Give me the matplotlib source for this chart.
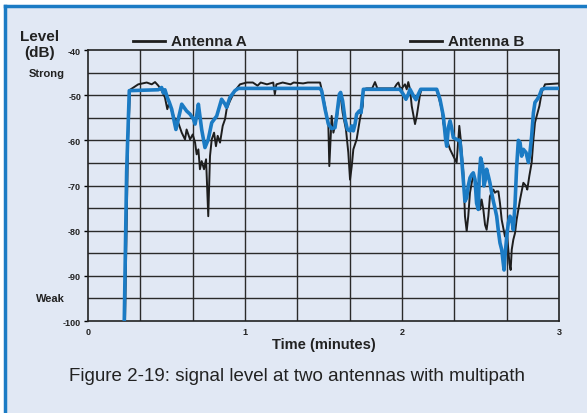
import numpy as np
import matplotlib.pyplot as plt
from matplotlib.patches import Rectangle
from matplotlib.lines import Line2D

# Antenna A (black trace)
time_a = [0.236, 0.255, 0.268, 0.32, 0.374, 0.406, 0.427, 0.448, 0.469, 0.490, 0.505, 0.518,
          0.533, 0.554, 0.575, 0.597, 0.618, 0.628, 0.650, 0.667, 0.682, 0.692, 0.703, 0.713,
          0.724, 0.739, 0.752, 0.766, 0.777, 0.788, 0.803, 0.815, 0.826, 0.841, 0.858, 0.873,
          0.883, 0.904, 0.936, 0.968, 1.011, 1.05, 1.08, 1.10, 1.14, 1.18, 1.19, 1.20, 1.24,
          1.29, 1.31, 1.37, 1.40, 1.478, 1.488, 1.510, 1.531, 1.537, 1.546, 1.552, 1.563,
          1.573, 1.584, 1.601, 1.609, 1.622, 1.643, 1.658, 1.669, 1.680, 1.690, 1.711, 1.732,
          1.750, 1.754, 1.775, 1.81, 1.828, 1.843, 1.95, 1.966, 1.977, 1.987, 1.998, 2.019,
          2.030, 2.040, 2.051, 2.062, 2.083, 2.094, 2.115, 2.125, 2.221, 2.231, 2.253, 2.263,
          2.285, 2.306, 2.327, 2.348, 2.359, 2.365, 2.374, 2.391, 2.401, 2.412, 2.422, 2.433,
          2.444, 2.454, 2.465, 2.475, 2.486, 2.497, 2.507, 2.518, 2.529, 2.539, 2.550, 2.560,
          2.571, 2.582, 2.592, 2.603, 2.614, 2.624, 2.635, 2.645, 2.656, 2.667, 2.677, 2.684,
          2.692, 2.699, 2.709, 2.720, 2.730, 2.752, 2.773, 2.790, 2.798, 2.811, 2.826, 2.837,
          2.847, 2.858, 2.875, 2.890, 2.911, 3.0]
level_a = [-100, -60, -48.8, -47.6, -47.2, -47.6, -47.1, -47.9, -49.0, -50.5, -53.1, -51.6,
           -53.5, -55.3, -56.1, -58.3, -59.8, -57.6, -59.8, -58.7, -60.5, -63.1, -62.0, -66.4,
           -64.6, -66.4, -64.2, -76.8, -63.5, -59.8, -58.3, -61.3, -59.0, -60.5, -56.8, -55.3,
           -53.1, -51.3, -49.0, -47.6, -47.2, -47.2, -47.9, -47.2, -47.6, -47.2, -49.8, -47.6, -47.2,
           -47.6, -47.2, -47.4, -47.2, -47.2, -48.7, -52.4, -56.8, -65.7, -59.0, -54.6, -58.3,
           -56.8, -55.3, -50.9, -50.1, -53.9, -57.6, -62.7, -68.7, -65.7, -62.0, -59.8, -55.3,
           -52.4, -48.7, -48.5, -48.5, -47.1, -48.5, -48.5, -47.6, -47.2, -48.3, -48.5, -47.6,
           -48.7, -47.1, -48.7, -52.4, -56.4, -54.6, -49.8, -48.7, -48.7, -50.1, -53.1, -56.1,
           -59.8, -62.0, -63.5, -64.9, -59.8, -56.8, -59.8, -67.2, -76.8, -80.1, -76.8, -71.6,
           -69.4, -67.9, -69.0, -69.4, -70.1, -75.3, -73.1, -75.3, -78.7, -79.8, -76.8, -72.4,
           -71.6, -70.9, -71.6, -71.3, -71.3, -73.9, -77.6, -79.4, -81.3, -79.8, -84.2, -87.2,
           -88.7, -84.2, -82.0, -80.5, -77.6, -73.1, -69.4, -70.1, -70.9, -67.9, -64.9, -59.8,
           -56.1, -54.6, -52.4, -49.4, -47.6, -47.4]

# Antenna B (blue trace)
time_b = [0.231, 0.246, 0.263, 0.448, 0.469, 0.48, 0.490, 0.505, 0.518, 0.533, 0.56, 0.597,
          0.628, 0.650, 0.672, 0.682, 0.692, 0.703, 0.724, 0.745, 0.766, 0.788, 0.820, 0.851,
          0.873, 0.883, 0.904, 0.936, 0.958, 1.478, 1.488, 1.510, 1.531, 1.552, 1.573, 1.584,
          1.601, 1.609, 1.622, 1.637, 1.652, 1.669, 1.680, 1.690, 1.701, 1.711, 1.728, 1.739,
          1.747, 1.754, 1.987, 2.008, 2.025, 2.040, 2.051, 2.072, 2.089, 2.104, 2.119, 2.221,
          2.242, 2.263, 2.278, 2.285, 2.295, 2.306, 2.316, 2.327, 2.348, 2.369, 2.380, 2.391,
          2.401, 2.412, 2.422, 2.433, 2.444, 2.454, 2.465, 2.475, 2.486, 2.492, 2.501, 2.514,
          2.522, 2.531, 2.539, 2.550, 2.560, 2.571, 2.582, 2.592, 2.603, 2.614, 2.624, 2.635,
          2.645, 2.650, 2.656, 2.667, 2.677, 2.688, 2.699, 2.709, 2.720, 2.730, 2.741, 2.752,
          2.762, 2.773, 2.790, 2.805, 2.815, 2.826, 2.837, 2.847, 2.862, 2.875, 2.890, 2.911, 3.0]
level_b = [-100, -67, -49.0, -48.8, -48.3, -49.5, -48.8, -50.5, -51.6, -53.1, -57.6, -52.0,
           -53.5, -54.2, -55.3, -56.4, -54.6, -52.0, -57.6, -61.6, -59.8, -56.1, -54.6, -50.9,
           -52.0, -52.7, -50.5, -49.0, -48.5, -48.5, -49.0, -53.1, -56.4, -57.4, -57.2, -54.6,
           -49.8, -49.4, -51.3, -55.3, -57.6, -57.9, -56.8, -57.9, -56.4, -54.2, -53.5, -53.9,
           -50.9, -48.7, -48.7, -49.8, -50.9, -49.8, -48.7, -50.1, -51.0, -49.8, -48.7, -48.7,
           -50.9, -54.6, -59.8, -61.3, -57.2, -55.7, -57.2, -59.4, -59.8, -60.1, -64.0, -69.0,
           -73.5, -72.7, -70.1, -68.3, -67.6, -67.2, -68.7, -73.9, -75.3, -67.9, -63.9, -65.7,
           -70.1, -68.7, -66.4, -67.9, -69.4, -71.6, -73.5, -75.0, -76.8, -80.1, -82.7, -84.2,
           -87.2, -88.7, -85.7, -81.3, -78.3, -76.8, -77.6, -79.8, -74.0, -66.0, -60.0, -60.5,
           -63.5, -62.0, -62.7, -64.9, -62.7, -59.0, -53.9, -51.6, -50.9, -50.1, -48.7, -48.5, -48.5]

y_ticks = [-40, -50, -60, -70, -80, -90, -100]
x_ticks = [0, 1, 2, 3]

bg = '#e1e8f4'
blue = '#1b7bc4'
ink = '#222222'
fam = ['Liberation Sans', 'DejaVu Sans']

fig = plt.figure(figsize=(5.87, 4.14), dpi=100)
fig.patch.set_facecolor('white')

# light blue panel with blue border at top and left
fig.patches.append(Rectangle((5 / 587, 0), 1, 1 - 7 / 414, transform=fig.transFigure,
                             facecolor=bg, edgecolor='none', zorder=-10))
fig.lines.append(Line2D([5 / 587, 1], [1 - 7 / 414, 1 - 7 / 414], transform=fig.transFigure,
                        color=blue, lw=2.5))
fig.lines.append(Line2D([5 / 587, 5 / 587], [0, 1 - 7 / 414], transform=fig.transFigure,
                        color=blue, lw=2.5))

ax = fig.add_axes([88 / 587, 1 - 322 / 414, (559 - 88) / 587, (322 - 51) / 414])
ax.set_facecolor(bg)
ax.set_xlim(0, 3)
ax.set_ylim(-100, -40)

for x in np.arange(1, 9) / 3:
    ax.axvline(x, color='#2a2a2a', lw=1.0, zorder=1)
for y in range(-95, -40, 5):
    ax.axhline(y, color='#2a2a2a', lw=1.0, zorder=1)

ax.plot(time_a, level_a, color='#1e1e1e', lw=1.4, zorder=2)
ax.plot(time_b, level_b, color=blue, lw=2.6, zorder=3)

for s in ax.spines.values():
    s.set_linewidth(1.2)
    s.set_color(ink)

ax.set_yticks(y_ticks)
ax.set_yticklabels([str(v) for v in y_ticks], fontsize=6.5, fontweight='bold', color=ink)
ax.set_xticks(x_ticks)
ax.set_xticklabels([str(v) for v in x_ticks], fontsize=6.5, fontweight='bold', color=ink)
ax.tick_params(axis='y', length=3, width=1, pad=2)
ax.tick_params(axis='x', length=0, pad=4)

ax.set_xlabel('Time (minutes)', fontsize=10.5, fontweight='bold', color=ink, labelpad=1)

for t in ax.get_xticklabels() + ax.get_yticklabels() + [ax.xaxis.label]:
    t.set_family(fam)

fig.text(40 / 587, 1 - 45 / 414, 'Level\n(dB)', ha='center', va='center', fontsize=11,
         fontweight='bold', family=fam, color=ink, linespacing=1.15)
fig.text(65 / 587, 1 - 74 / 414, 'Strong', ha='right', va='center', fontsize=8,
         fontweight='bold', family=fam, color=ink)
fig.text(65 / 587, 1 - 299 / 414, 'Weak', ha='right', va='center', fontsize=8,
         fontweight='bold', family=fam, color=ink)

# legend entries (both drawn with dark line markers)
for x0, x1, label in [(133, 165, 'Antenna A'), (410, 442, 'Antenna B')]:
    fig.lines.append(Line2D([x0 / 587, x1 / 587], [1 - 42 / 414, 1 - 42 / 414],
                            transform=fig.transFigure, color='#1e1e1e', lw=2))
    fig.text((x1 + 6) / 587, 1 - 42 / 414, label, ha='left', va='center', fontsize=11,
             fontweight='bold', family=fam, color=ink)

fig.text(297 / 587, 1 - 377 / 414, 'Figure 2-19: signal level at two antennas with multipath',
         ha='center', va='center', fontsize=13.5, family=fam, color=ink)

fig.savefig('out.png', dpi=100, facecolor=fig.get_facecolor())
